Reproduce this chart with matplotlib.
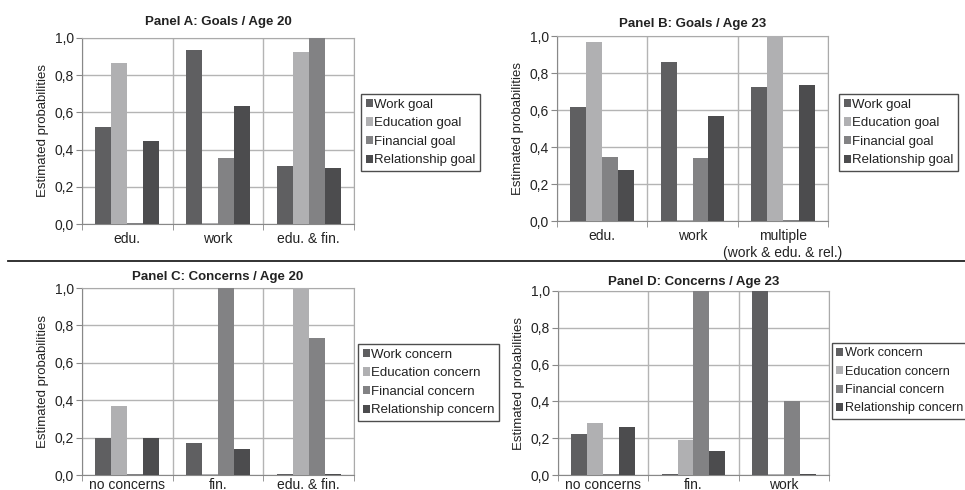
import matplotlib.pyplot as plt
import numpy as np
from matplotlib.lines import Line2D

plt.rcParams['font.family'] = ['Liberation Sans', 'DejaVu Sans']

# Data
goal_series = ['Work goal', 'Education goal', 'Financial goal', 'Relationship goal']
concern_series = ['Work concern', 'Education concern', 'Financial concern', 'Relationship concern']

cats_a = ['edu.', 'work', 'edu. & fin.']
vals_a = [[0.52, 0.935, 0.31],
          [0.865, 0.005, 0.925],
          [0.005, 0.355, 1.0],
          [0.445, 0.635, 0.30]]

cats_b = ['edu.', 'work', 'multiple\n(work & edu. & rel.)']
vals_b = [[0.615, 0.86, 0.725],
          [0.97, 0.005, 1.0],
          [0.345, 0.34, 0.005],
          [0.275, 0.57, 0.735]]

cats_c = ['no concerns', 'fin.', 'edu. & fin.']
vals_c = [[0.20, 0.17, 0.005],
          [0.37, 0.005, 1.0],
          [0.005, 1.0, 0.73],
          [0.20, 0.14, 0.005]]

cats_d = ['no concerns', 'fin.', 'work']
vals_d = [[0.225, 0.005, 1.0],
          [0.285, 0.19, 0.005],
          [0.005, 1.0, 0.40],
          [0.26, 0.13, 0.005]]

colors = ['#5f5f61', '#b0b0b2', '#828284', '#4c4c4e']

W, H = 965, 490
fig = plt.figure(figsize=(W / 100, H / 100), dpi=100)


def px_axes(left, right, top, bottom):
    return fig.add_axes([left / W, 1 - bottom / H, (right - left) / W, (bottom - top) / H])


def panel(ax, title, cats, vals, series, pad, leg_xy, xpad=6, legsize=9.5):
    n = len(cats)
    x = np.arange(n)
    bw = 0.176
    for i, (v, c, s) in enumerate(zip(vals, colors, series)):
        ax.bar(x + (i - 1.5) * bw, v, bw, color=c, label=s, zorder=3)
    ax.set_xlim(-0.5, n - 0.5)
    ax.set_ylim(0, 1.0)
    ax.set_yticks(np.arange(0, 1.01, 0.2))
    ax.set_yticklabels([f'{t:.1f}'.replace('.', ',') for t in np.arange(0, 1.01, 0.2)],
                       fontsize=10, color='#222222')
    ax.set_xticks(x)
    ax.set_xticklabels(cats, fontsize=10, color='#222222')
    ax.set_xticks(np.arange(-0.5, n, 1.0), minor=True)
    ax.tick_params(axis='x', which='major', length=0, pad=xpad)
    ax.tick_params(axis='x', which='minor', length=4, color='#888888')
    ax.tick_params(axis='y', length=4, color='#888888', pad=2)
    ax.grid(axis='y', color='#b4b4b4', lw=1, zorder=0)
    ax.grid(axis='x', which='minor', color='#b4b4b4', lw=1, zorder=0)
    for sp in ax.spines.values():
        sp.set_color('#aaaaaa')
    ax.spines['left'].set_color('#888888')
    ax.spines['bottom'].set_color('#888888')
    ax.set_ylabel('Estimated probabilities', fontsize=9.5, color='#222222')
    ax.set_title(title, fontsize=9.5, fontweight='bold', pad=pad, color='#222222')
    leg = ax.legend(loc='upper left', bbox_to_anchor=(leg_xy[0] / W, 1 - leg_xy[1] / H),
                    bbox_transform=fig.transFigure, fontsize=legsize, frameon=True,
                    fancybox=False, edgecolor='#222222', handlelength=0.55,
                    handleheight=0.6, handletextpad=0.1, labelspacing=0.5,
                    borderpad=0.35, borderaxespad=0)
    leg.get_frame().set_linewidth(1.0)
    for t in leg.get_texts():
        t.set_color('#222222')


ax_a = px_axes(82, 354, 38, 224)
panel(ax_a, 'Panel A: Goals / Age 20', cats_a, vals_a, goal_series, 9, (361, 94))

ax_b = px_axes(557, 828, 36, 221)
panel(ax_b, 'Panel B: Goals / Age 23', cats_b, vals_b, goal_series, 6.5, (839, 94))

ax_c = px_axes(82, 354, 288, 475)
panel(ax_c, 'Panel C: Concerns / Age 20', cats_c, vals_c, concern_series, 6, (358, 344), xpad=2)

ax_d = px_axes(558, 829, 291, 475)
panel(ax_d, 'Panel D: Concerns / Age 23', cats_d, vals_d, concern_series, 4.5, (832, 343),
      xpad=2, legsize=9.1)

fig.add_artist(Line2D([8 / W, 1], [1 - 261 / H, 1 - 261 / H], color='#222222', lw=1.3))

fig.savefig('out.png', dpi=100)
